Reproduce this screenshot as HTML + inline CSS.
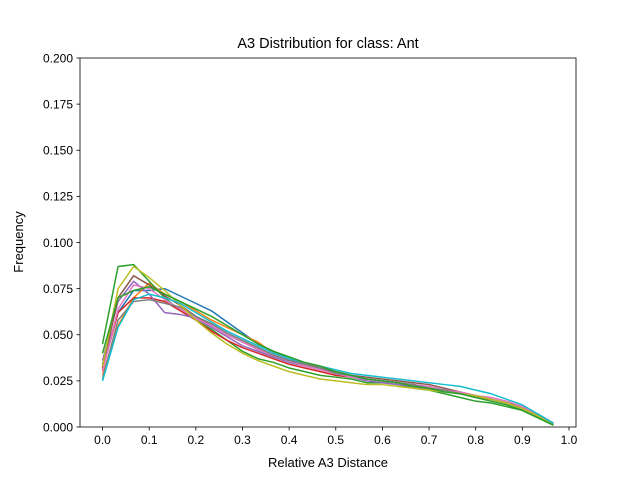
<!DOCTYPE html>
<html><head><meta charset="utf-8"><style>
body{margin:0;background:#fff}
svg{font-family:"Liberation Sans","DejaVu Sans",sans-serif}
</style></head><body>
<svg id="chart" width="640" height="480" xmlns="http://www.w3.org/2000/svg">
<rect width="640" height="480" fill="#fff"/>
<text x="328" y="48" font-size="14.5" text-anchor="middle">A3 Distribution for class: Ant</text>
<text x="328" y="467" font-size="13" text-anchor="middle">Relative A3 Distance</text>
<text transform="translate(23,242) rotate(-90)" font-size="13" text-anchor="middle">Frequency</text>
<g id="lines"></g>
<g id="axes"></g>
</svg>
<script>
const xTicks=[0,0.1,0.2,0.3,0.4,0.5,0.6,0.7,0.8,0.9,1.0];
const xTickLabels=["0.0","0.1","0.2","0.3","0.4","0.5","0.6","0.7","0.8","0.9","1.0"];
const yTicks=[0,0.025,0.05,0.075,0.1,0.125,0.15,0.175,0.2];
const yTickLabels=["0.000","0.025","0.050","0.075","0.100","0.125","0.150","0.175","0.200"];
const colors=["#1f77b4","#ff7f0e","#2ca02c","#d62728","#9467bd","#8c564b","#e377c2","#7f7f7f","#bcbd22","#17becf"];
const sBlue=[0.034,0.062,0.074,0.074,0.075,0.071,0.067,0.063,0.057,0.051,0.045,0.041,0.037,0.034,0.032,0.029,0.027,0.026,0.025,0.024,0.023,0.021,0.019,0.018,0.017,0.015,0.013,0.010,0.006,0.002];
const sOrange=[0.028,0.055,0.070,0.078,0.072,0.068,0.063,0.058,0.054,0.050,0.046,0.040,0.037,0.035,0.032,0.030,0.028,0.026,0.025,0.024,0.022,0.021,0.020,0.018,0.016,0.015,0.013,0.010,0.006,0.002];
const sGreen=[0.045,0.087,0.088,0.079,0.070,0.063,0.058,0.053,0.047,0.041,0.037,0.035,0.032,0.030,0.028,0.027,0.026,0.024,0.024,0.023,0.021,0.020,0.018,0.016,0.014,0.013,0.011,0.009,0.005,0.001];
const sRed=[0.031,0.062,0.070,0.070,0.068,0.063,0.058,0.052,0.047,0.043,0.040,0.037,0.034,0.032,0.030,0.028,0.027,0.026,0.025,0.024,0.022,0.021,0.020,0.018,0.017,0.015,0.013,0.010,0.006,0.002];
const sPurple=[0.036,0.068,0.079,0.072,0.062,0.061,0.059,0.054,0.049,0.044,0.041,0.038,0.035,0.033,0.031,0.029,0.027,0.025,0.024,0.023,0.022,0.020,0.020,0.018,0.017,0.015,0.013,0.010,0.006,0.002];
const sBrown=[0.032,0.070,0.082,0.077,0.071,0.066,0.060,0.055,0.050,0.046,0.042,0.039,0.036,0.034,0.032,0.030,0.028,0.027,0.026,0.025,0.024,0.023,0.021,0.019,0.017,0.015,0.013,0.011,0.007,0.002];
const sPink=[0.030,0.064,0.077,0.075,0.069,0.064,0.059,0.055,0.050,0.046,0.042,0.039,0.036,0.033,0.031,0.029,0.027,0.026,0.025,0.024,0.023,0.022,0.020,0.019,0.017,0.016,0.014,0.011,0.007,0.002];
const sGray=[0.026,0.058,0.068,0.069,0.067,0.065,0.060,0.056,0.051,0.047,0.043,0.039,0.036,0.034,0.032,0.029,0.028,0.026,0.025,0.024,0.023,0.021,0.020,0.018,0.017,0.015,0.013,0.010,0.006,0.002];
const sOlive=[0.033,0.075,0.087,0.081,0.074,0.066,0.058,0.051,0.045,0.040,0.036,0.033,0.030,0.028,0.026,0.025,0.024,0.023,0.023,0.022,0.021,0.020,0.019,0.018,0.017,0.015,0.013,0.010,0.006,0.001];
const sCyan=[0.025,0.054,0.069,0.072,0.070,0.067,0.062,0.057,0.052,0.048,0.044,0.040,0.037,0.035,0.033,0.031,0.029,0.028,0.027,0.026,0.025,0.024,0.023,0.022,0.020,0.018,0.015,0.012,0.007,0.002];
const sGreen2=[0.040,0.070,0.074,0.076,0.072,0.068,0.064,0.060,0.055,0.050,0.045,0.041,0.038,0.035,0.033,0.030,0.028,0.026,0.025,0.024,0.022,0.021,0.019,0.018,0.016,0.014,0.012,0.009,0.005,0.001];
const series=[sBlue,sOrange,sGreen,sRed,sPurple,sBrown,sPink,sGray,sOlive,sCyan,sGreen2];
const seriesColors=[0,1,2,3,4,5,6,7,8,9,2];
const NS="http://www.w3.org/2000/svg";
const L=80,R=576,T=58,B=427;
const x0=-0.0483,x1=1.015,y0=0,y1=0.2;
const sx=v=>L+(v-x0)/(x1-x0)*(R-L);
const sy=v=>B-(v-y0)/(y1-y0)*(B-T);
const lines=document.getElementById('lines');
series.forEach((s,i)=>{
  const p=document.createElementNS(NS,'polyline');
  p.setAttribute('points',s.map((v,j)=>sx(j/30).toFixed(2)+','+sy(v).toFixed(2)).join(' '));
  p.setAttribute('fill','none');
  p.setAttribute('stroke',colors[seriesColors[i]]);
  p.setAttribute('stroke-width','1.5');
  p.setAttribute('stroke-linejoin','round');
  
  
  lines.appendChild(p);
});
const axes=document.getElementById('axes');
function el(tag,attrs,txt){const e=document.createElementNS(NS,tag);for(const k in attrs)e.setAttribute(k,attrs[k]);if(txt!==undefined)e.textContent=txt;axes.appendChild(e);return e;}
const frame=el('rect',{x:L,y:T,width:R-L,height:B-T,fill:'none',stroke:'#000','stroke-width':0.8});


xTicks.forEach((v,i)=>{
  const x=sx(v);
  const t=el('line',{x1:x,x2:x,y1:B,y2:B+3.5,stroke:'#000','stroke-width':0.8});
  
  
  const lb=el('text',{x:x,y:B+17,'font-size':12,'text-anchor':'middle'},xTickLabels[i]);
  
  
});
yTicks.forEach((v,i)=>{
  const y=sy(v);
  const t=el('line',{x1:L-3.5,x2:L,y1:y,y2:y,stroke:'#000','stroke-width':0.8});
  
  
  const lb=el('text',{x:L-7,y:y+4.3,'font-size':12,'text-anchor':'end'},yTickLabels[i]);
  
  
});
</script>
</body></html>
